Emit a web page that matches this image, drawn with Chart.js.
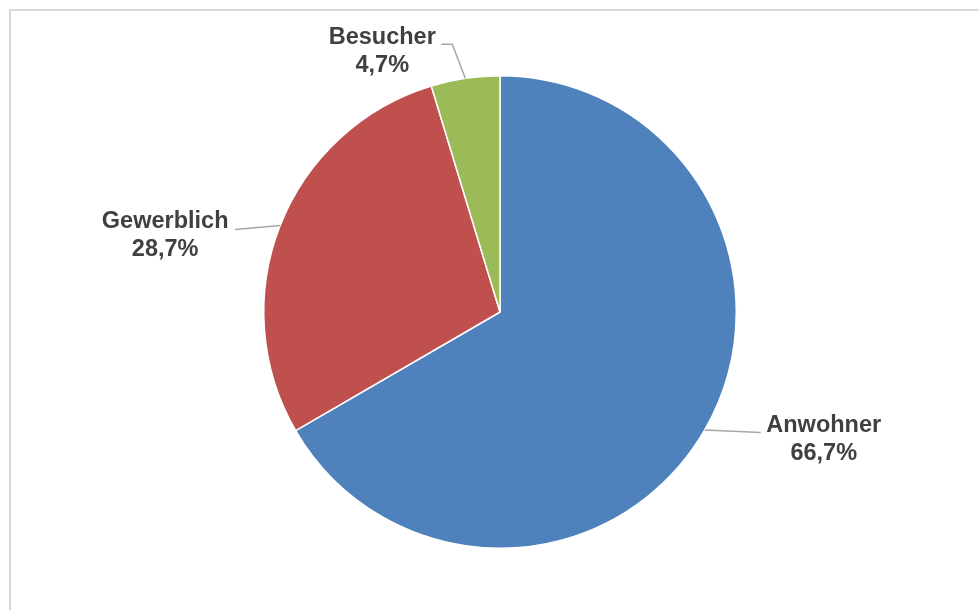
<!DOCTYPE html>
<html>
<head>
<meta charset="utf-8">
<script src="https://cdn.jsdelivr.net/npm/chart.js@4"></script>
<style>
  html, body { margin: 0; padding: 0; background: #fff; overflow: hidden; }
  #frame { position: absolute; left: 9px; top: 9px; width: 1000px; height: 700px; border: 2px solid #d9d9d9; }
  #wrap { position: absolute; left: 0; top: 0; width: 979px; height: 610px; }
</style>
</head>
<body>
<div id="frame"></div>
<div id="wrap"><canvas id="myChart"></canvas></div>
<script>
const ctx = document.getElementById("myChart");

// categories and shares (percent)
var labels = ['Anwohner', 'Gewerblich', 'Besucher'];
var values = [66.7, 28.7, 4.7];
var colors = ['#4F81BD', '#C0504D', '#9BBB59'];

// where each label sits relative to the slice edge point
// dx,dy = text centre / first baseline, line = leader points after the edge
var labelPos = [
  { dx: 119, dy: 2, line: [[56, 2.5]] },
  { dx: -115, dy: 2.5, line: [[-45, 4]] },
  { dx: -83, dy: -34, line: [[-13, -34], [-24, -34]] }
];

const outLabels = {
  id: 'outLabels',
  afterDatasetsDraw(chart) {
    const c = chart.ctx;
    const meta = chart.getDatasetMeta(0);
    meta.data.forEach(function (arc, i) {
      const mid = (arc.startAngle + arc.endAngle) / 2;
      const ax = arc.x + Math.cos(mid) * arc.outerRadius;
      const ay = arc.y + Math.sin(mid) * arc.outerRadius;
      const p = labelPos[i];
      c.save();
      c.strokeStyle = '#a6a6a6';
      c.lineWidth = 1.5;
      c.beginPath();
      c.moveTo(ax, ay);
      p.line.forEach(function (pt) { c.lineTo(ax + pt[0], ay + pt[1]); });
      c.stroke();
      c.fillStyle = '#404040';
      c.font = 'bold 23.5px "Liberation Sans", Arial, sans-serif';
      c.textAlign = 'center';
      c.textBaseline = 'alphabetic';
      c.fillText(labels[i], ax + p.dx, ay + p.dy);
      c.fillText(values[i].toFixed(1).replace('.', ',') + '%', ax + p.dx, ay + p.dy + 28);
      c.restore();
    });
  }
};

new Chart(ctx, {
  type: 'pie',
  data: {
    labels: labels,
    datasets: [{
      data: values,
      backgroundColor: colors,
      borderColor: '#ffffff',
      borderWidth: 1.5
    }]
  },
  options: {
    responsive: true,
    maintainAspectRatio: false,
    animation: false,
    layout: { padding: { left: 263, right: 242, top: 75, bottom: 61 } },
    plugins: {
      legend: { display: false },
      tooltip: { enabled: false }
    }
  },
  plugins: [outLabels]
});
</script>
</body>
</html>
